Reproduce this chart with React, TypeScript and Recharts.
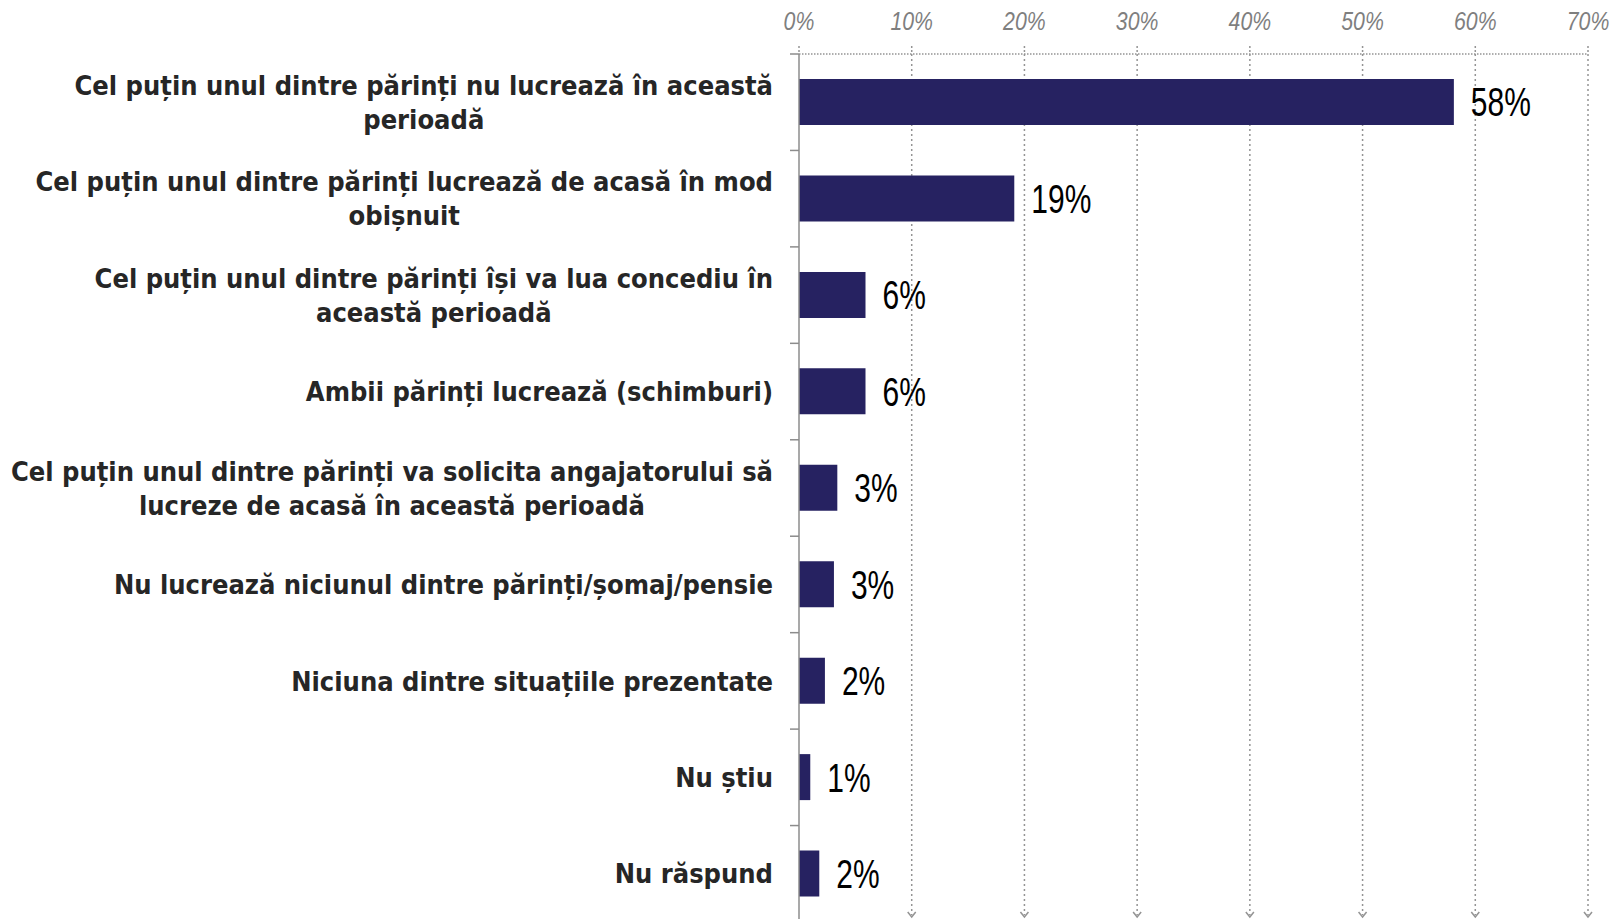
import { BarChart, Bar, XAxis, YAxis, CartesianGrid, LabelList } from 'recharts';

// categories, split the way the labels wrap
const categoryLines: string[][] = [
  ['Cel puțin unul dintre părinți nu lucrează în această', 'perioadă'],
  ['Cel puțin unul dintre părinți lucrează de acasă în mod', 'obișnuit'],
  ['Cel puțin unul dintre părinți își va lua concediu în', 'această perioadă'],
  ['Ambii părinți lucrează (schimburi)'],
  ['Cel puțin unul dintre părinți va solicita angajatorului să', 'lucreze de acasă în această perioadă'],
  ['Nu lucrează niciunul dintre părinți/șomaj/pensie'],
  ['Niciuna dintre situațiile prezentate'],
  ['Nu știu'],
  ['Nu răspund'],
];
const shares = [58.1, 19.1, 5.9, 5.9, 3.4, 3.1, 2.3, 1.0, 1.8];
const xTicks = [0, 10, 20, 30, 40, 50, 60, 70];

const CHART_W = 1614;
const CHART_H = 922;
const AXIS_H = 54;
const Y_AXIS_W = 799;
const BAND = (CHART_H - AXIS_H) / categoryLines.length;
const LABEL_GAP = 26;
const LINE_H = 34;
const LABEL_FONT = 'bold 27px "DejaVu Sans Condensed"';
const GRID = '#949494';

const byLabel: Record<string, string[]> = {};
categoryLines.forEach((l) => (byLabel[l.join(' ')] = l));

const data = categoryLines.map((l, i) => ({ name: l.join(' '), value: shares[i] }));

let ctx: CanvasRenderingContext2D | null = null;
function measure(s: string) {
  if (!ctx) ctx = document.createElement('canvas').getContext('2d');
  if (!ctx) return s.length * 13;
  ctx.font = LABEL_FONT;
  return ctx.measureText(s).width;
}

function CategoryTick(props: any) {
  const { x, y, payload } = props;
  const lines = byLabel[payload.value] ?? [payload.value];
  const maxW = Math.max(...lines.map(measure));
  const cx = x - maxW / 2;
  const axisX = x + LABEL_GAP;
  return (
    <g>
      <line x1={axisX - 9} x2={axisX} y1={y - BAND / 2} y2={y - BAND / 2} stroke="#8c8c8c" strokeWidth={1.5} />
      <text textAnchor="middle" fill="#262626" style={{ font: LABEL_FONT }}>
        {lines.map((line, i) => (
          <tspan key={i} x={cx} y={y + (i - (lines.length - 1) / 2) * LINE_H} dy="0.36em">
            {line}
          </tspan>
        ))}
      </text>
    </g>
  );
}

function PercentTick(props: any) {
  const { x, y, payload } = props;
  return (
    <text
      transform={`translate(${x},${y}) scale(0.82,1)`}
      textAnchor="middle"
      fill="#7f7f7f"
      fontSize={26}
      fontStyle="italic"
      fontFamily='"Liberation Sans", Arial, sans-serif'
    >
      {`${payload.value}%`}
    </text>
  );
}

function ValueLabel(props: any) {
  const { x, y, width, height, value } = props;
  const tx = Number(x) + Number(width) + 17;
  const ty = Number(y) + Number(height) / 2;
  return (
    <text
      transform={`translate(${tx},${ty}) scale(0.75,1)`}
      dy="0.36em"
      fill="#000"
      fontSize={40}
      fontFamily='"Liberation Sans", Arial, sans-serif'
    >
      {`${Math.round(Number(value))}%`}
    </text>
  );
}

function GridLine(props: any) {
  const { x1, y1, y2 } = props;
  if (Math.abs(x1 - Y_AXIS_W) < 1) return <g key={props.key} />;
  const tip = y2 - 5;
  return (
    <g key={props.key}>
      <line x1={x1} x2={x1} y1={y1} y2={tip - 2} stroke={GRID} strokeWidth={1.5} strokeDasharray="2 3" />
      <polyline
        points={`${x1 - 4},${tip - 5} ${x1},${tip} ${x1 + 4},${tip - 5}`}
        fill="none"
        stroke={GRID}
        strokeWidth={1.5}
      />
    </g>
  );
}

export default function App() {
  return (
    <div style={{ position: 'absolute', left: 0, top: 0, width: CHART_W, height: 919, overflow: 'hidden', background: '#fff' }}>
      <BarChart
        width={CHART_W}
        height={CHART_H}
        data={data}
        layout="vertical"
        margin={{ top: 0, right: 26, left: 0, bottom: 0 }}
      >
        <CartesianGrid horizontal={false} vertical={GridLine} />
        <XAxis
          type="number"
          orientation="top"
          domain={[0, 70]}
          ticks={xTicks}
          height={AXIS_H}
          axisLine={{ stroke: GRID, strokeWidth: 1.5, strokeDasharray: '1.5 1.5' }}
          tickLine={{ stroke: GRID, strokeWidth: 1.5, strokeDasharray: '2 2' }}
          tickSize={8}
          tickMargin={16}
          tick={PercentTick}
        />
        <YAxis
          type="category"
          dataKey="name"
          width={Y_AXIS_W}
          axisLine={{ stroke: '#8c8c8c', strokeWidth: 1.5 }}
          tickLine={false}
          tickSize={0}
          tickMargin={LABEL_GAP}
          tick={CategoryTick}
          interval={0}
        />
        <Bar dataKey="value" fill="#262261" barSize={46} isAnimationActive={false}>
          <LabelList dataKey="value" content={ValueLabel} />
        </Bar>
      </BarChart>
    </div>
  );
}
